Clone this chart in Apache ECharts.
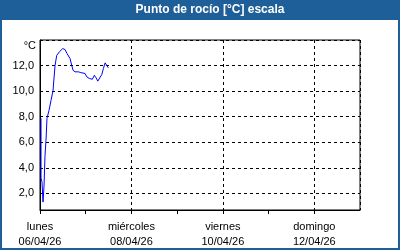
<!DOCTYPE html>
<html><head><meta charset="utf-8">
<script src="https://cdn.jsdelivr.net/npm/echarts@6/dist/echarts.min.js"></script>
<style>html,body{margin:0;padding:0;background:#fff}#c{width:400px;height:250px}</style>
</head><body><div id="c"></div>
<script>
var title = 'Punto de rocío [°C] escala';
var unit = '°C';
var dayNames = ['lunes','martes','miércoles','jueves','viernes','sábado','domingo','lunes'];
var dayDates = ['06/04/26','07/04/26','08/04/26','09/04/26','10/04/26','11/04/26','12/04/26','13/04/26'];
// time in days since 06/04/26 00:00
var times = [0.022,0.022,0.044,0.066,0.088,0.110,0.131,0.153,0.197,0.241,0.285,0.329,0.366,0.423,0.497,0.548,0.591,0.620,0.657,0.694,0.723,0.767,0.839,0.892,0.935,0.986,1.023,1.080,1.117,1.146,1.189,1.227,1.264,1.299,1.352,1.387,1.424,1.461,1.496];
var values = [7.87,3.19,2.88,1.32,2.57,4.98,6.15,7.87,8.49,9.27,10.05,12.0,12.80,13.07,13.33,13.25,12.94,13.07,12.55,12.02,11.63,11.51,11.51,11.45,11.56,11.38,11.12,10.99,11.12,10.93,11.24,11.04,10.78,10.85,11.30,11.77,12.21,12.08,11.82];

var data = times.map(function(t,i){return [t, values[i]];});
var font = 'Liberation Sans';
var chart = echarts.init(document.getElementById('c'));
chart.setOption({
  animation:false,
  backgroundColor:'#fff',
  graphic:[
    {type:'rect', shape:{x:1,y:1,width:398,height:248}, style:{fill:'none',stroke:'#1F5F99',lineWidth:2}, z:-1},
    {type:'rect', shape:{x:0,y:0,width:400,height:20}, style:{fill:'#1F5F99'}, z:-1},
    {type:'text', x:210, y:10, style:{text:title, fill:'#fff', font:'bold 12px '+font, textAlign:'center', textVerticalAlign:'middle'}},
    {type:'text', x:36, y:46, style:{text:unit, fill:'#000', font:'11px '+font, textAlign:'right', textVerticalAlign:'middle'}}
  ],
  grid:{left:40, right:40, top:40, bottom:40, show:true, borderColor:'#000', borderWidth:1, backgroundColor:'transparent'},
  xAxis:[{
    type:'value', min:0, max:7, interval:1,
    axisLine:{show:true, lineStyle:{color:'#000',width:1}},
    axisTick:{show:true, length:4, lineStyle:{color:'#000'}},
    splitLine:{show:false},
    axisLabel:{color:'#000', fontFamily:font, fontSize:11, lineHeight:15, margin:9, showMaxLabel:false,
      formatter:function(v){ if (v%2!==0) return ''; return dayNames[v]+'\n'+dayDates[v]; }}
  },{
    type:'value', min:0, max:7, interval:2, position:'bottom',
    axisLine:{show:false}, axisTick:{show:false}, axisLabel:{show:false},
    splitLine:{show:true, lineStyle:{color:'#000', type:[3,3], width:1}}
  }],
  yAxis:{
    type:'value', min:0.7, max:14, splitNumber:7,
    axisLine:{show:true, lineStyle:{color:'#000'}},
    axisTick:{show:false},
    splitLine:{show:true, lineStyle:{color:'#000', type:[3,3], width:1}},
    axisLabel:{color:'#000', fontFamily:font, fontSize:11, margin:6,
      formatter:function(v){ if (Math.abs(v-Math.round(v))>1e-6 || v>13.5) return ''; return v.toFixed(1).replace('.',','); }}
  },
  series:[{type:'line', xAxisIndex:0, data:data, showSymbol:false, symbol:'none',
    lineStyle:{color:'#0000FF', width:1}}]
});
</script></body></html>
